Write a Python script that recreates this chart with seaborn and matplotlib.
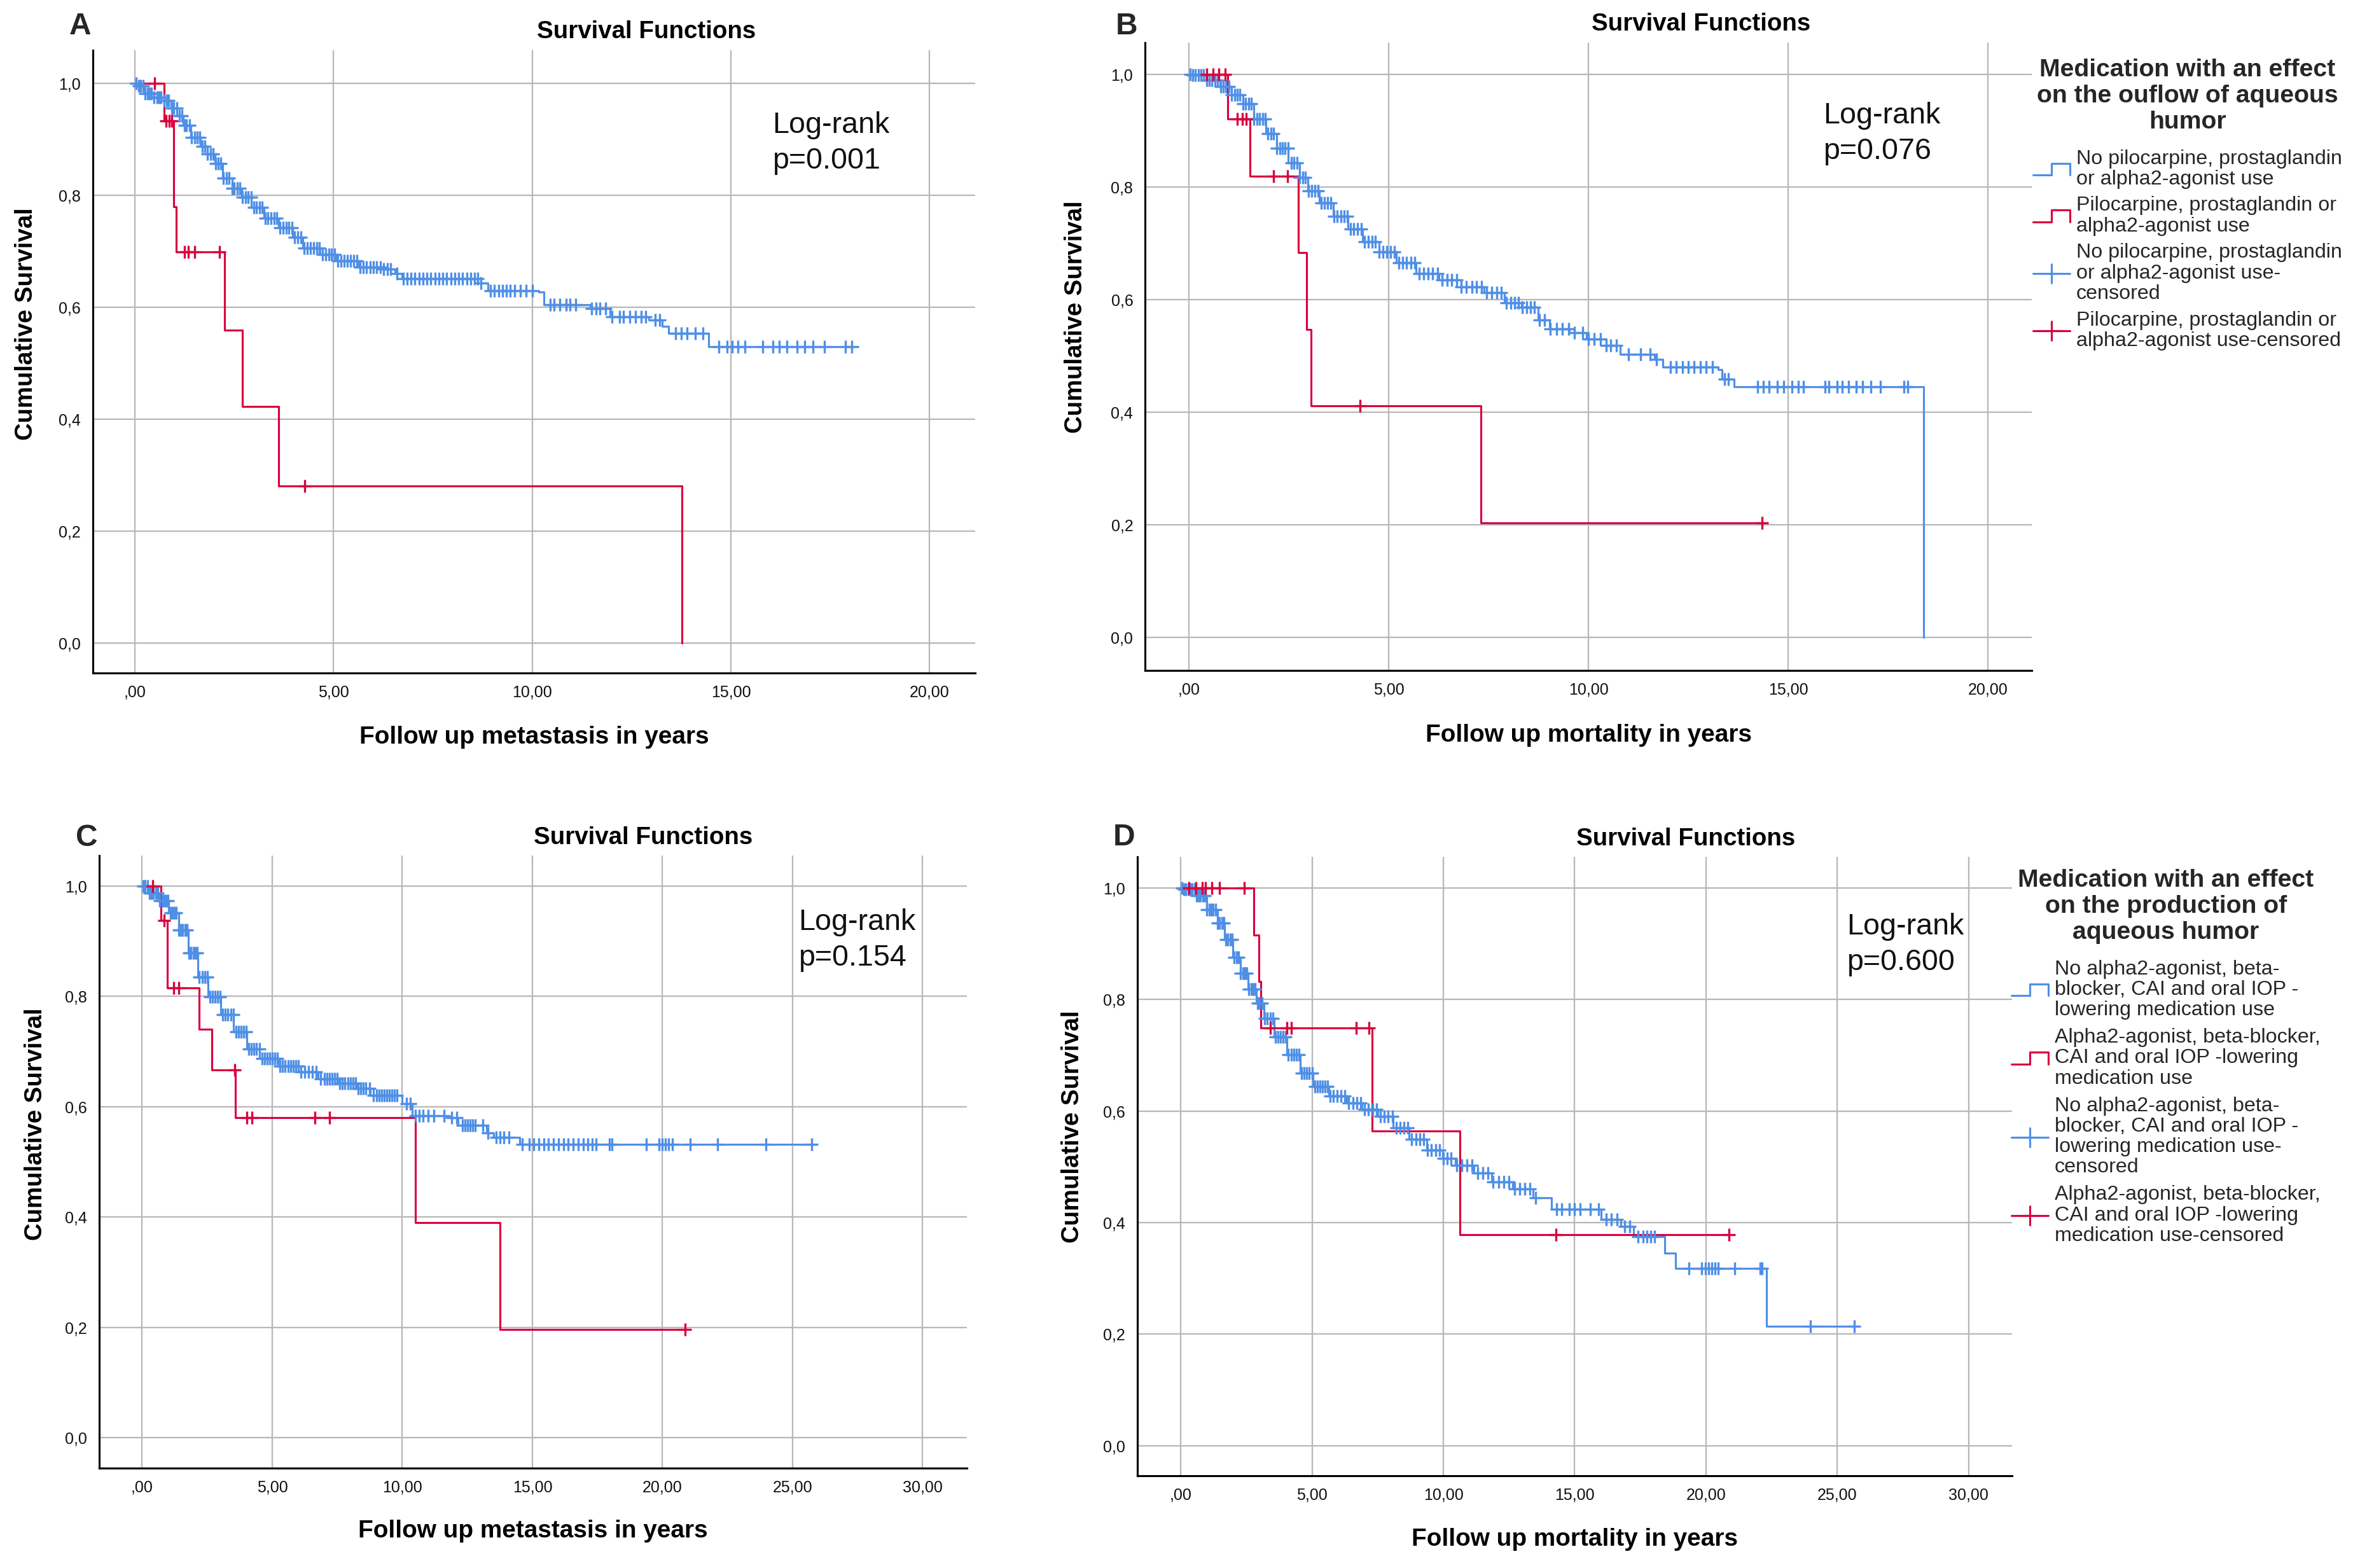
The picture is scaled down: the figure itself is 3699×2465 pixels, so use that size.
import numpy as np
import matplotlib
matplotlib.use("Agg")
import matplotlib.pyplot as plt
import seaborn as sns
from matplotlib.lines import Line2D
from matplotlib.legend_handler import HandlerBase
from matplotlib.ticker import FixedLocator, FuncFormatter

# ---------------- data ----------------
# Panel A: metastasis, outflow medication
a_blue_t = [0, 0.05, 0.24, 0.48, 0.73, 0.91, 1.06, 1.22, 1.40, 1.65, 1.83, 2.01, 2.20, 2.44, 2.69, 2.93,
            3.24, 3.61, 3.97, 4.22, 4.65, 5.08, 5.63, 6.24, 6.55, 6.73, 8.63, 8.88, 10.16, 10.29, 11.47,
            11.96, 12.94, 13.27, 13.43, 14.44, 18.2]
a_blue_s = [1.0, 0.995, 0.982, 0.975, 0.969, 0.956, 0.942, 0.925, 0.903, 0.887, 0.874, 0.857, 0.831, 0.812,
            0.797, 0.778, 0.759, 0.742, 0.725, 0.706, 0.694, 0.683, 0.672, 0.668, 0.660, 0.651, 0.643, 0.630,
            0.627, 0.605, 0.598, 0.583, 0.577, 0.566, 0.553, 0.530, 0.530]
a_blue_c = [0.03, 0.09, 0.14, 0.2, 0.26, 0.31, 0.37, 0.42, 0.48, 0.55, 0.6, 0.66, 0.73, 0.79, 0.85, 0.92,
            0.98, 1.05, 1.11, 1.18, 1.24, 1.3, 1.37, 1.43, 1.5, 1.56, 1.63, 1.7, 1.76, 1.83, 1.9, 1.96, 2.03,
            2.1, 2.16, 2.23, 2.3, 2.37, 2.44, 2.5, 2.57, 2.64, 2.71, 2.78, 2.85, 2.92, 2.99, 3.06, 3.13, 3.2,
            3.28, 3.35, 3.42, 3.5, 3.57, 3.64, 3.72, 3.8, 3.87, 3.95, 4.02, 4.1, 4.18, 4.25, 4.33, 4.41, 4.49,
            4.57, 4.64, 4.72, 4.8, 4.88, 4.95, 5.03, 5.1, 5.18, 5.26, 5.34, 5.42, 5.5, 5.58, 5.66, 5.75, 5.83,
            5.92, 6.0, 6.08, 6.17, 6.26, 6.35, 6.44, 6.6, 6.75, 6.85, 6.95, 7.05, 7.15, 7.25, 7.35, 7.45, 7.55,
            7.65, 7.75, 7.85, 7.95, 8.05, 8.15, 8.25, 8.35, 8.45, 8.55, 8.62, 8.7, 8.95, 9.05, 9.15, 9.25,
            9.35, 9.45, 9.55, 9.7, 9.85, 10.0, 10.45, 10.55, 10.7, 10.85, 10.95, 11.1, 11.5, 11.6, 11.7, 11.85,
            12.0, 12.2, 12.3, 12.45, 12.6, 12.75, 12.85, 13.1, 13.2, 13.6, 13.75, 13.9, 14.1, 14.3,
            14.7, 14.9, 15.03, 15.18, 15.36, 15.8, 16.05, 16.21, 16.41, 16.67, 16.86, 17.06, 17.35, 17.89, 18.04]
a_red_t = [0, 0.74, 0.98, 1.03, 2.25, 2.70, 3.61, 13.77]
a_red_s = [1.0, 0.933, 0.779, 0.699, 0.559, 0.423, 0.281, 0.0]
a_red_c = [0.49, 0.78, 0.86, 0.92, 1.24, 1.34, 1.5, 2.12, 4.28]

# Panel B: mortality, outflow medication
b_blue_t = [0, 0.07, 0.43, 0.78, 1.07, 1.35, 1.63, 1.92, 2.20, 2.49, 2.77, 2.98, 3.27, 3.62, 3.98, 4.34,
            4.76, 5.19, 5.69, 6.25, 6.82, 7.39, 7.89, 8.32, 8.74, 9.03, 9.52, 9.95, 10.45, 10.80, 11.66,
            11.86, 13.25, 13.35, 13.64, 18.40]
b_blue_s = [1.0, 0.998, 0.989, 0.978, 0.963, 0.948, 0.921, 0.895, 0.869, 0.842, 0.816, 0.793, 0.771, 0.748,
            0.725, 0.703, 0.684, 0.665, 0.646, 0.635, 0.622, 0.612, 0.594, 0.586, 0.563, 0.548, 0.541, 0.530,
            0.518, 0.503, 0.493, 0.480, 0.475, 0.458, 0.445, 0.0]
b_blue_c = [0.03, 0.1, 0.16, 0.23, 0.3, 0.37, 0.44, 0.51, 0.58, 0.65, 0.72, 0.79, 0.86, 0.93, 1.0, 1.07,
            1.14, 1.21, 1.28, 1.35, 1.42, 1.49, 1.56, 1.63, 1.7, 1.77, 1.84, 1.91, 1.98, 2.05, 2.12, 2.2,
            2.27, 2.34, 2.41, 2.48, 2.56, 2.63, 2.7, 2.77, 2.85, 2.92, 3.0, 3.07, 3.15, 3.23, 3.31, 3.39,
            3.47, 3.55, 3.63, 3.71, 3.8, 3.88, 3.96, 4.05, 4.13, 4.22, 4.31, 4.4, 4.49, 4.58, 4.67, 4.76,
            4.85, 4.95, 5.05, 5.15, 5.25, 5.35, 5.45, 5.55, 5.65, 5.76, 5.87, 5.98, 6.1, 6.22, 6.34, 6.46,
            6.58, 6.7, 6.82, 6.95, 7.08, 7.2, 7.32, 7.45, 7.58, 7.7, 7.82, 7.95, 8.05, 8.15, 8.25, 8.35,
            8.45, 8.55, 8.65, 8.78, 8.9, 9.05, 9.2, 9.35, 9.5, 9.65, 9.85, 10.0, 10.15, 10.3, 10.45, 10.55,
            10.7, 11.0, 11.3, 11.55, 11.7, 12.05, 12.2, 12.35, 12.5, 12.65, 12.8, 12.95, 13.1, 13.4, 13.5,
            14.24, 14.38, 14.53, 14.73, 14.89, 15.09, 15.25, 15.39, 15.92, 16.02, 16.22, 16.36, 16.51,
            16.71, 16.87, 17.07, 17.31, 17.90, 18.0]
b_red_t = [0, 0.97, 1.52, 2.73, 2.95, 3.05, 7.31, 14.34]
b_red_s = [1.0, 0.921, 0.819, 0.683, 0.546, 0.411, 0.203, 0.203]
b_red_c = [0.45, 0.6, 0.75, 0.9, 1.21, 1.33, 1.43, 2.12, 2.46, 4.28, 14.34]

# Panel C: metastasis, production medication
c_blue_t = [0, 0.27, 0.65, 1.02, 1.40, 1.77, 2.15, 2.52, 3.02, 3.52, 4.02, 4.52, 5.27, 6.01, 6.76, 7.51,
            8.26, 8.76, 10.0, 10.38, 11.75, 12.13, 13.25, 13.50, 14.5, 25.93]
c_blue_s = [1.0, 0.987, 0.973, 0.951, 0.920, 0.879, 0.835, 0.799, 0.767, 0.736, 0.705, 0.687, 0.674, 0.663,
            0.651, 0.642, 0.633, 0.620, 0.606, 0.584, 0.580, 0.566, 0.553, 0.544, 0.532, 0.532]
c_blue_c = [0.04, 0.12, 0.2, 0.28, 0.36, 0.44, 0.52, 0.6, 0.68, 0.76, 0.84, 0.92, 1.0, 1.08, 1.16, 1.24,
            1.32, 1.4, 1.48, 1.56, 1.64, 1.72, 1.8, 1.88, 1.96, 2.04, 2.12, 2.2, 2.3, 2.4, 2.5, 2.6, 2.7,
            2.8, 2.9, 3.0, 3.1, 3.2, 3.3, 3.4, 3.5, 3.6, 3.7, 3.8, 3.9, 4.0, 4.1, 4.2, 4.3, 4.4, 4.5, 4.6,
            4.7, 4.8, 4.9, 5.0, 5.1, 5.2, 5.3, 5.4, 5.5, 5.6, 5.7, 5.8, 5.9, 6.0, 6.1, 6.25, 6.4, 6.55, 6.7,
            6.85, 7.0, 7.1, 7.2, 7.3, 7.4, 7.5, 7.6, 7.7, 7.8, 7.9, 8.0, 8.1, 8.2, 8.3, 8.4, 8.5, 8.6, 8.75,
            8.9, 9.0, 9.1, 9.2, 9.3, 9.4, 9.5, 9.6, 9.7, 9.8, 10.15, 10.3, 10.5, 10.65, 10.8, 11.0, 11.2,
            11.6, 11.9, 12.1, 12.3, 12.4, 12.5, 12.6, 12.7, 12.8, 13.1, 13.3, 13.6, 13.75, 13.9, 14.1,
            14.62, 14.87, 15.05, 15.25, 15.45, 15.62, 15.8, 16.0, 16.2, 16.37, 16.57, 16.75, 16.95, 17.12,
            17.3, 17.45, 17.95, 18.05, 19.37, 19.87, 20.0, 20.12, 20.24, 20.37, 21.06, 22.11, 23.98, 25.73]
c_red_t = [0, 0.72, 0.97, 2.2, 2.67, 3.59, 10.5, 13.75, 20.86]
c_red_s = [1.0, 0.937, 0.815, 0.740, 0.666, 0.580, 0.390, 0.196, 0.196]
c_red_c = [0.40, 0.85, 1.2, 1.4, 3.55, 4.02, 4.22, 6.64, 7.19, 20.86]

# Panel D: mortality, production medication
d_blue_t = [0, 0.11, 0.60, 0.99, 1.39, 1.68, 1.98, 2.28, 2.57, 2.87, 3.16, 3.56, 4.05, 4.54, 5.04, 5.63,
            6.32, 6.91, 7.50, 8.09, 8.68, 9.37, 9.97, 10.46, 11.15, 11.84, 12.63, 13.42, 14.11, 16.01,
            16.75, 17.25, 18.43, 18.85, 22.31, 25.77]
d_blue_s = [1.0, 0.998, 0.986, 0.961, 0.937, 0.908, 0.876, 0.847, 0.819, 0.794, 0.766, 0.733, 0.701, 0.668,
            0.644, 0.627, 0.615, 0.603, 0.591, 0.570, 0.550, 0.530, 0.515, 0.503, 0.489, 0.473, 0.460, 0.444,
            0.424, 0.406, 0.393, 0.375, 0.345, 0.318, 0.214, 0.214]
d_blue_c = [0.04, 0.12, 0.2, 0.28, 0.36, 0.44, 0.52, 0.6, 0.68, 0.76, 0.84, 0.92, 1.0, 1.08, 1.16, 1.24,
            1.32, 1.4, 1.48, 1.56, 1.64, 1.72, 1.8, 1.88, 1.96, 2.04, 2.12, 2.2, 2.28, 2.36, 2.44, 2.52, 2.6,
            2.68, 2.76, 2.84, 2.92, 3.0, 3.1, 3.2, 3.3, 3.4, 3.5, 3.6, 3.7, 3.8, 3.9, 4.0, 4.1, 4.2, 4.3,
            4.4, 4.5, 4.6, 4.7, 4.8, 4.9, 5.0, 5.1, 5.2, 5.3, 5.4, 5.5, 5.6, 5.7, 5.8, 5.95, 6.1, 6.25, 6.4,
            6.55, 6.7, 6.85, 7.0, 7.15, 7.3, 7.45, 7.6, 7.75, 7.9, 8.05, 8.2, 8.35, 8.5, 8.65, 8.8, 8.95,
            9.1, 9.25, 9.4, 9.55, 9.7, 9.85, 10.0, 10.15, 10.3, 10.5, 10.7, 10.9, 11.1, 11.3, 11.5, 11.7,
            11.9, 12.1, 12.3, 12.5, 12.7, 12.9, 13.1, 13.3, 13.5, 14.3, 14.5, 14.8, 15.0, 15.2, 15.6, 15.9,
            16.2, 16.4, 16.6, 16.9, 17.1, 17.4, 17.6, 17.75, 17.9, 18.05,
            19.35, 19.84, 19.97, 20.09, 20.21, 20.34, 20.46, 21.08, 22.07, 22.14, 23.97, 25.65]
d_red_t = [0, 2.79, 2.97, 3.06, 7.29, 10.62, 20.88]
d_red_s = [1.0, 0.916, 0.832, 0.749, 0.564, 0.378, 0.378]
d_red_c = [0.32, 0.57, 0.82, 0.94, 1.19, 1.48, 2.42, 3.41, 4.03, 4.2, 6.67, 7.17, 14.28, 20.88]

x_ticks_ab = [0, 5, 10, 15, 20]
x_ticks_cd = [0, 5, 10, 15, 20, 25, 30]
y_ticks = [0.0, 0.2, 0.4, 0.6, 0.8, 1.0]

legend_b_title = "Medication with an effect\non the ouflow of aqueous\nhumor"
legend_b_labels = ["No pilocarpine, prostaglandin\nor alpha2-agonist use",
                   "Pilocarpine, prostaglandin or\nalpha2-agonist use",
                   "No pilocarpine, prostaglandin\nor alpha2-agonist use-\ncensored",
                   "Pilocarpine, prostaglandin or\nalpha2-agonist use-censored"]
legend_d_title = "Medication with an effect\non the production of\naqueous humor"
legend_d_labels = ["No alpha2-agonist, beta-\nblocker, CAI and oral IOP -\nlowering medication use",
                   "Alpha2-agonist, beta-blocker,\nCAI and oral IOP -lowering\nmedication use",
                   "No alpha2-agonist, beta-\nblocker, CAI and oral IOP -\nlowering medication use-\ncensored",
                   "Alpha2-agonist, beta-blocker,\nCAI and oral IOP -lowering\nmedication use-censored"]

# ---------------- style ----------------
sns.set_theme(style="white")
plt.rcParams["font.family"] = ["Liberation Sans", "DejaVu Sans"]

BLUE = "#4F8FE6"
RED = "#D9003F"
GRID = "#B8B8B8"

W, H, DPI = 3699, 2465, 300
fig = plt.figure(figsize=(W / DPI, H / DPI), dpi=DPI)
fig.patch.set_facecolor("white")

panels = [
    dict(letter="A", rect=[0.03947, 0.5708, 0.37497, 0.3972], xlim=(-1.06, 21.15), ylim=(-0.053, 1.059),
         xt=x_ticks_ab, xlabel="Follow up metastasis in years", p="p=0.001", lr=(0.770, 0.851),
         curves=[(a_blue_t, a_blue_s, a_blue_c, BLUE), (a_red_t, a_red_s, a_red_c, RED)],
         letter_xy=(126, 42)),
    dict(letter="B", rect=[0.48662, 0.5724, 0.37686, 0.4004], xlim=(-1.10, 21.1), ylim=(-0.059, 1.056),
         xt=x_ticks_ab, xlabel="Follow up mortality in years", p="p=0.076", lr=(0.765, 0.855),
         curves=[(b_blue_t, b_blue_s, b_blue_c, BLUE), (b_red_t, b_red_s, b_red_c, RED)],
         letter_xy=(1771, 42)),
    dict(letter="C", rect=[0.04217, 0.06369, 0.36875, 0.39067], xlim=(-1.65, 31.7), ylim=(-0.055, 1.055),
         xt=x_ticks_cd, xlabel="Follow up metastasis in years", p="p=0.154", lr=(0.806, 0.862),
         curves=[(c_blue_t, c_blue_s, c_blue_c, BLUE), (c_red_t, c_red_s, c_red_c, RED)],
         letter_xy=(136, 1318)),
    dict(letter="D", rect=[0.48337, 0.05882, 0.37172, 0.39473], xlim=(-1.65, 31.65), ylim=(-0.054, 1.056),
         xt=x_ticks_cd, xlabel="Follow up mortality in years", p="p=0.600", lr=(0.811, 0.858),
         curves=[(d_blue_t, d_blue_s, d_blue_c, BLUE), (d_red_t, d_red_s, d_red_c, RED)],
         letter_xy=(1767, 1317)),
]


def xfmt(v, pos):
    s = f"{v:.2f}".replace(".", ",")
    return s[1:] if s.startswith("0,") else s


def yfmt(v, pos):
    return f"{v:.1f}".replace(".", ",")


axes = []
for P in panels:
    ax = fig.add_axes(P["rect"])
    axes.append(ax)
    ax.set_facecolor("white")
    for t, s, c, col in P["curves"]:
        sns.lineplot(x=t, y=s, drawstyle="steps-post", estimator=None, sort=False,
                     color=col, linewidth=0.75, ax=ax, legend=False, zorder=3)
        t_arr = np.asarray(t)
        s_arr = np.asarray(s)
        idx = np.searchsorted(t_arr, np.asarray(c), side="right") - 1
        sns.scatterplot(x=c, y=s_arr[idx], marker="+", s=24, color=col, linewidth=0.8,
                        ax=ax, legend=False, zorder=4)
    ax.set_xlim(*P["xlim"])
    ax.set_ylim(*P["ylim"])
    ax.xaxis.set_major_locator(FixedLocator(P["xt"]))
    ax.yaxis.set_major_locator(FixedLocator(y_ticks))
    ax.xaxis.set_major_formatter(FuncFormatter(xfmt))
    ax.yaxis.set_major_formatter(FuncFormatter(yfmt))
    ax.grid(True, color=GRID, linewidth=0.55, zorder=0)
    ax.set_axisbelow(True)
    for side in ["top", "right"]:
        ax.spines[side].set_visible(False)
    for side in ["left", "bottom"]:
        ax.spines[side].set_color("black")
        ax.spines[side].set_linewidth(0.75)
    ax.tick_params(axis="both", length=0, labelsize=6, colors="#111111", pad=4.5)
    ax.set_xlabel(P["xlabel"], fontsize=9.3, fontweight="bold", color="black")
    ax.xaxis.set_label_coords(0.5, -0.103)
    ax.xaxis.label.set_verticalalignment("center")
    ax.set_ylabel("Cumulative Survival", fontsize=9.2, fontweight="bold", color="black")
    ax.yaxis.label.set_verticalalignment("center")
    ax.set_title("Survival Functions", fontsize=9.25, fontweight="bold", x=0.627, y=1.029,
                 va="center", color="black", pad=0)
    ax.text(P["lr"][0], P["lr"][1], "Log-rank\n" + P["p"], transform=ax.transAxes, fontsize=11.2,
            ha="left", va="center", linespacing=1.35, color="#111111")
    lx, ly = P["letter_xy"]
    fig.text(lx / W, 1 - ly / H, P["letter"], fontsize=11.5, fontweight="bold", ha="center", va="center")

# y-label positions (axes coords)
axes[0].yaxis.set_label_coords(-0.0757, 0.56)
axes[1].yaxis.set_label_coords((1691 - 1800) / 1394, 0.563)
axes[2].yaxis.set_label_coords((56 - 156) / 1364, 0.562)
axes[3].yaxis.set_label_coords((1686 - 1788) / 1375, 0.564)


class StepHandler(HandlerBase):
    def create_artists(self, legend, orig_handle, xdescent, ydescent, width, height, fontsize, trans):
        x0, y0 = -xdescent, -ydescent
        lo = y0 + 0.05 * height
        hi = y0 + 0.95 * height
        xs = [x0, x0 + 0.5 * width, x0 + 0.5 * width, x0 + width, x0 + width]
        ys = [lo, lo, hi, hi, lo]
        ln = Line2D(xs, ys, color=orig_handle.get_color(), linewidth=0.75, transform=trans)
        return [ln]


def make_legend(ax, title, labels, anchor, spacing):
    step_b = Line2D([], [], color=BLUE)
    step_r = Line2D([], [], color=RED)
    cens_b = Line2D([], [], color=BLUE, marker="+", markersize=7.5, markeredgewidth=0.75, linewidth=0.75)
    cens_r = Line2D([], [], color=RED, marker="+", markersize=7.5, markeredgewidth=0.75, linewidth=0.75)
    leg = ax.legend([step_b, step_r, cens_b, cens_r], labels,
                    handler_map={step_b: StepHandler(), step_r: StepHandler()},
                    loc="upper left", bbox_to_anchor=anchor, bbox_transform=fig.transFigure,
                    frameon=False, fontsize=7.75, title=title,
                    title_fontproperties={"weight": "bold", "size": 9.4},
                    handlelength=1.8, handleheight=0.6, handletextpad=0.3, labelspacing=spacing,
                    borderpad=0, borderaxespad=0, numpoints=1, alignment="center")
    for t in leg.get_texts():
        t.set_linespacing(1.1)
    leg.get_title().set_multialignment("center")
    leg.get_title().set_linespacing(1.17)
    leg._legend_box.sep = 6.0
    return leg


make_legend(axes[1], legend_b_title, legend_b_labels, (3196 / W, 1 - 92 / H), 0.36)
make_legend(axes[3], legend_d_title, legend_d_labels, (3162 / W, 1 - 1366 / H), 0.40)

fig.savefig("out.png", dpi=DPI, facecolor="white")
